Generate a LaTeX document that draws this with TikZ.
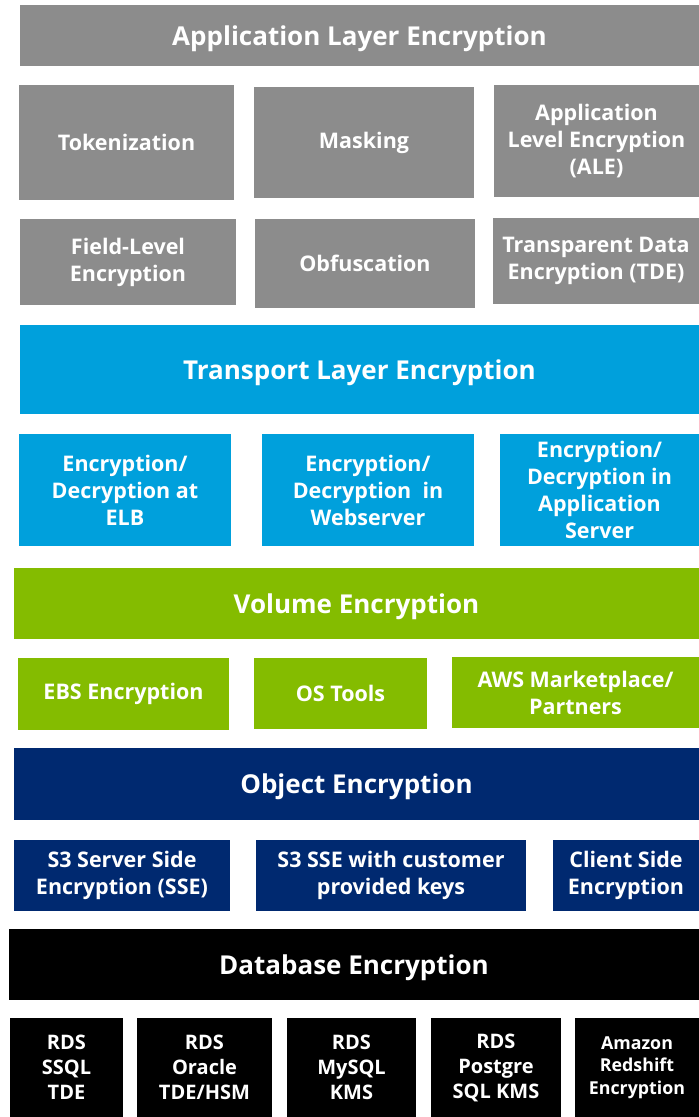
\documentclass[tikz,border=0pt]{standalone}
\usepackage{fontspec}
\setmainfont{Open Sans}
\usepackage{xcolor}

\definecolor{appgray}{HTML}{8C8C8C}
\definecolor{transblue}{HTML}{00A0DC}
\definecolor{volgreen}{HTML}{84BC00}
\definecolor{objnavy}{HTML}{002970}

\tikzset{
  layer/.style={inner sep=0pt, text=white, align=center, text depth=0pt,
    font=\bfseries\fontsize{26}{30}\selectfont},
  item/.style={inner sep=0pt, text=white, align=center,
    font=\bfseries\fontsize{21.5}{27}\selectfont},
  rds/.style={font=\bfseries\fontsize{20}{25}\selectfont},
  small/.style={font=\bfseries\fontsize{17.8}{22.5}\selectfont}
}

\begin{document}
\begin{tikzpicture}[x=1pt, y=-1pt]

  \useasboundingbox (0,0) rectangle (699,1117);

  % Couche application
  \node[layer, fill=appgray, minimum width=679, minimum height=61] (app) at (359.5,35.5) {Application Layer Encryption};
  \node[item, fill=appgray, minimum width=215, minimum height=115] (tok) at (126.5,142.5) {Tokenization};
  \node[item, fill=appgray, minimum width=220, minimum height=111] (mask) at (364,142.5) {Masking};
  \node[item, fill=appgray, minimum width=205, minimum height=112] (ale) at (596.5,141) {Application\\Level Encryption\\(ALE)};
  \node[item, fill=appgray, minimum width=216, minimum height=86] (field) at (128,262) {Field-Level\\Encryption};
  \node[item, fill=appgray, minimum width=220, minimum height=89] (obf) at (365,263.5) {Obfuscation};
  \node[item, fill=appgray, minimum width=206, minimum height=86] (tde) at (596,261) {Transparent Data\\Encryption (TDE)};

  % Couche transport
  \node[layer, fill=transblue, minimum width=679, minimum height=89] (trans) at (359.5,369.5) {Transport Layer Encryption};
  \node[item, fill=transblue, minimum width=212, minimum height=112] (elb) at (125,490) {Encryption/\\Decryption at\\ELB};
  \node[item, fill=transblue, minimum width=212, minimum height=112] (web) at (368,490) {Encryption/\\Decryption\ \ in\\Webserver};
  \node[item, fill=transblue, minimum width=199, minimum height=112] (appsrv) at (599.5,490) {Encryption/\\Decryption in\\Application\\Server};

  % Volume
  \node[layer, fill=volgreen, minimum width=685, minimum height=71] (vol) at (356.5,603.5) {Volume Encryption};
  \node[item, fill=volgreen, minimum width=211, minimum height=72] (ebs) at (123.5,694) {EBS Encryption};
  \node[item, fill=volgreen, minimum width=173, minimum height=71] (os) at (340.5,693.5) {OS Tools};
  \node[item, fill=volgreen, minimum width=247, minimum height=71] (mkt) at (575.5,692.5) {AWS Marketplace/\\Partners};

  % Objets
  \node[layer, fill=objnavy, minimum width=685, minimum height=72] (obj) at (356.5,784) {Object Encryption};
  \node[item, fill=objnavy, minimum width=216, minimum height=71] (sse) at (122,875.5) {S3 Server Side\\Encryption (SSE)};
  \node[item, fill=objnavy, minimum width=270, minimum height=71] (ssec) at (391,875.5) {S3 SSE with customer\\provided keys};
  \node[item, fill=objnavy, minimum width=146, minimum height=71] (client) at (626,875.5) {Client Side\\Encryption};

  % Base de donnees
  \node[layer, fill=black, minimum width=690, minimum height=71] (db) at (354,964.5) {Database Encryption};
  \node[item, rds, fill=black, minimum width=113, minimum height=99] (rdsa) at (66.5,1067.5) {RDS\\SSQL\\TDE};
  \node[item, rds, fill=black, minimum width=135, minimum height=99] (rdsb) at (204.5,1067.5) {RDS\\Oracle\\TDE/HSM};
  \node[item, rds, fill=black, minimum width=129, minimum height=99] (rdsc) at (351.5,1067.5) {RDS\\MySQL\\KMS};
  \node[item, rds, fill=black, minimum width=130, minimum height=99] (rdsd) at (496,1067.5) {RDS\\Postgre\\SQL KMS};
  \node[item, small, fill=black, minimum width=124, minimum height=99] (red) at (637,1067.5) {Amazon\\Redshift\\Encryption};

\end{tikzpicture}
\end{document}
